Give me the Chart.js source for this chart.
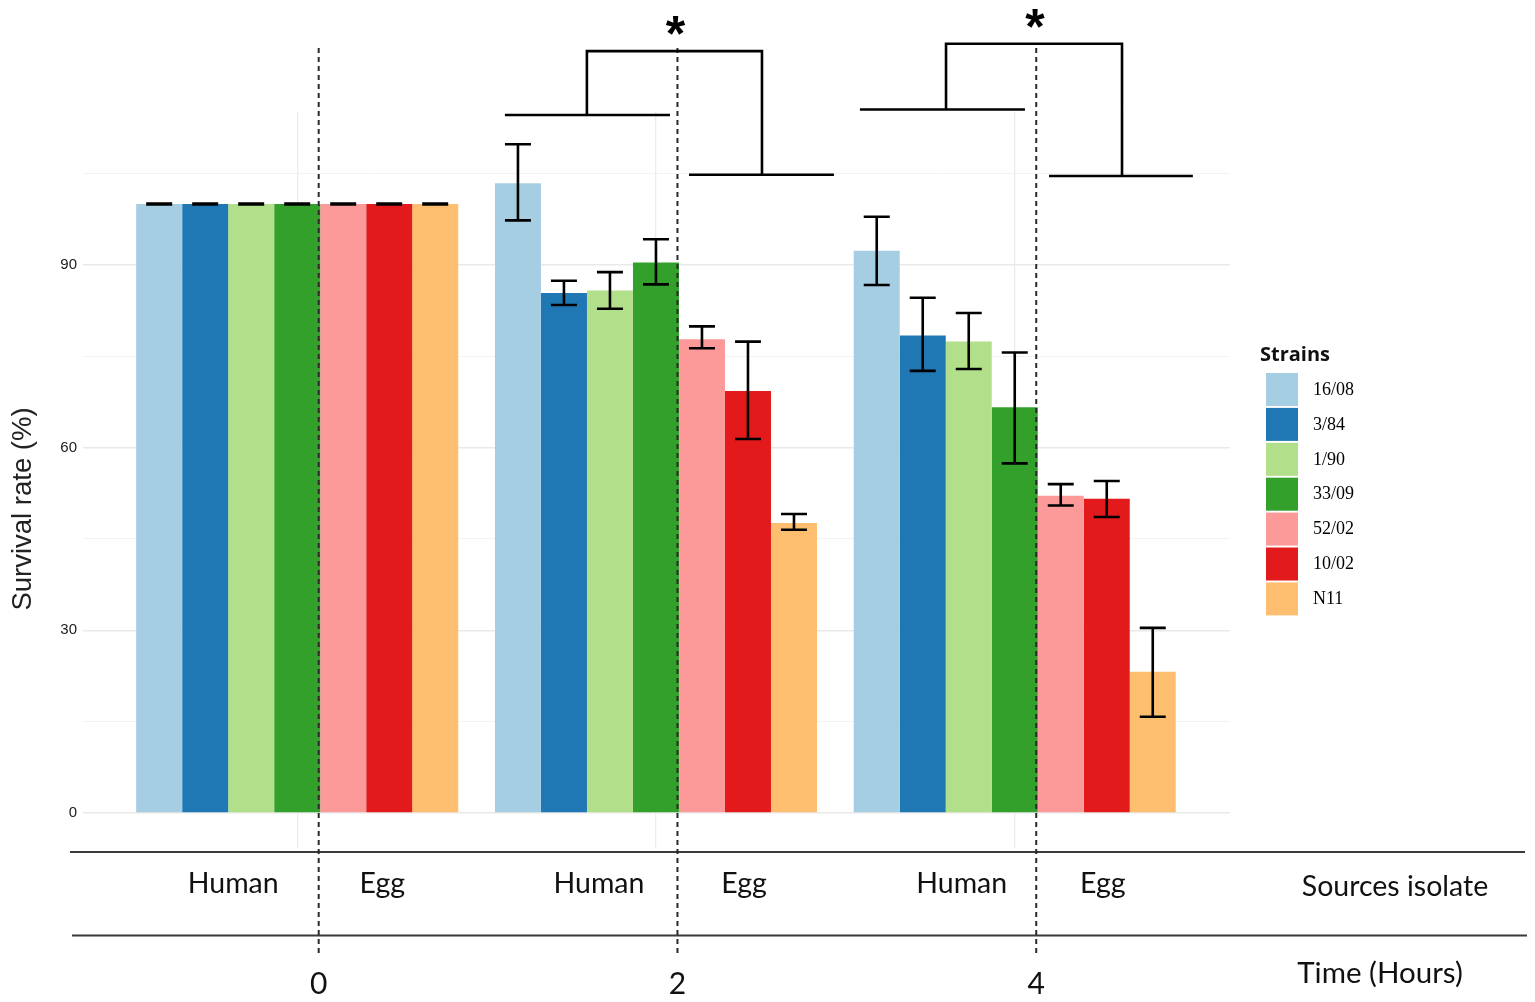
<!DOCTYPE html>
<html><head><meta charset="utf-8">
<script src="https://cdn.jsdelivr.net/npm/chart.js@4.4.1/dist/chart.umd.min.js"></script>
<style>html,body{margin:0;padding:0;background:#fff;overflow:hidden}</style>
</head><body>
<canvas id="c" width="1535" height="1002"></canvas>
<script>
// ---- data ----
const times = [0, 2, 4];
const strains = ['16/08', '3/84', '1/90', '33/09', '52/02', '10/02', 'N11'];
const sourceOf = ['Human', 'Human', 'Human', 'Human', 'Egg', 'Egg', 'Egg'];
const sourceLabels = ['Human', 'Egg'];
const yTickValues = [0, 30, 60, 90];

const mean1608 = [100, 103.4, 92.3];
const mean384  = [100, 85.4, 78.4];
const mean190  = [100, 85.8, 77.4];
const mean3309 = [100, 90.4, 66.6];
const mean5202 = [100, 77.8, 52.1];
const mean1002 = [100, 69.3, 51.6];
const meanN11  = [100, 47.6, 23.2];

const low1608 = [100, 97.3, 86.7];
const low384  = [100, 83.4, 72.6];
const low190  = [100, 82.8, 72.9];
const low3309 = [100, 86.8, 57.4];
const low5202 = [100, 76.3, 50.5];
const low1002 = [100, 61.4, 48.6];
const lowN11  = [100, 46.5, 15.8];

const high1608 = [100, 109.8, 97.9];
const high384  = [100, 87.4, 84.6];
const high190  = [100, 88.8, 82.1];
const high3309 = [100, 94.2, 75.6];
const high5202 = [100, 79.9, 54.0];
const high1002 = [100, 77.4, 54.5];
const highN11  = [100, 49.1, 30.4];

const significantTimes = [2, 4];
const significanceLabel = '*';

// ---- styling / geometry ----
const colors = ['#A6CEE3', '#1F78B4', '#B2DF8A', '#33A02C', '#FB9A99', '#E31A1C', '#FDBF6F'];
const means = [mean1608, mean384, mean190, mean3309, mean5202, mean1002, meanN11];
const lows = [low1608, low384, low190, low3309, low5202, low1002, lowN11];
const highs = [high1608, high384, high190, high3309, high5202, high1002, highN11];

// bracket geometry, in axis units relative to each time value
const bracketGeom = [
  {hL: -0.842, hR: 0.078, eL: 0.184, eR: 0.992, cL: -0.385, cR: 0.591, hY: 114.6, eY: 104.8, topY: 125.1},
  {hL: -0.863, hR: 0.057, eL: 0.191, eR: 0.993, cL: -0.383, cR: 0.598, hY: 115.5, eY: 104.6, topY: 126.3}
];
const humanLabelOffset = [-87, -80, -76];
const eggLabelOffset = [62, 65, 65];

const overlay = {
  id: 'overlay',
  afterDatasetsDraw(chart) {
    const ctx = chart.ctx, y = chart.scales.y;
    ctx.save();
    ctx.strokeStyle = '#000';
    chart.data.datasets.forEach((ds, k) => {
      const meta = chart.getDatasetMeta(k);
      meta.data.forEach((el, i) => {
        const x = el.x, cap = 13;
        const y1 = y.getPixelForValue(lows[k][i]);
        const y2 = y.getPixelForValue(highs[k][i]);
        ctx.lineWidth = (y1 === y2) ? 3.4 : 2.6;
        ctx.beginPath();
        ctx.moveTo(x, y1); ctx.lineTo(x, y2);
        ctx.moveTo(x - cap, y1); ctx.lineTo(x + cap, y1);
        ctx.moveTo(x - cap, y2); ctx.lineTo(x + cap, y2);
        ctx.stroke();
      });
    });
    ctx.restore();
  },
  afterDraw(chart) {
    const ctx = chart.ctx, xs = chart.scales.x, ys = chart.scales.y;
    ctx.save();
    const firstEgg = sourceOf.indexOf('Egg');
    const metaEgg = chart.getDatasetMeta(firstEgg);
    const bounds = metaEgg.data.map(el => el.x - el.width / 2);

    // table lines
    ctx.strokeStyle = '#3a3a3a';
    ctx.lineWidth = 2;
    ctx.beginPath();
    ctx.moveTo(70, 852); ctx.lineTo(1525, 852);
    ctx.moveTo(72, 935.5); ctx.lineTo(1527, 935.5);
    ctx.stroke();

    // dashed lines
    ctx.strokeStyle = '#2a2a2a';
    ctx.lineWidth = 2;
    ctx.setLineDash([5, 4]);
    bounds.forEach(b => {
      ctx.beginPath();
      ctx.moveTo(b - 1.5, 48); ctx.lineTo(b - 1.5, 953);
      ctx.stroke();
    });
    ctx.setLineDash([]);

    // brackets
    ctx.strokeStyle = '#000';
    ctx.lineWidth = 2.6;
    significantTimes.forEach((t, j) => {
      const g = bracketGeom[j];
      const px = v => xs.getPixelForValue(t + v);
      const py = v => ys.getPixelForValue(v);
      ctx.beginPath();
      ctx.moveTo(px(g.hL), py(g.hY)); ctx.lineTo(px(g.hR), py(g.hY));
      ctx.moveTo(px(g.eL), py(g.eY)); ctx.lineTo(px(g.eR), py(g.eY));
      ctx.moveTo(px(g.cL), py(g.hY)); ctx.lineTo(px(g.cL), py(g.topY));
      ctx.lineTo(px(g.cR), py(g.topY)); ctx.lineTo(px(g.cR), py(g.eY));
      ctx.stroke();
      ctx.fillStyle = '#000';
      ctx.font = 'bold 50px "Liberation Sans"';
      ctx.textAlign = 'center';
      ctx.textBaseline = 'alphabetic';
      ctx.fillText(significanceLabel, (px(g.cL) + px(g.cR)) / 2 + 1, py(g.topY));
    });

    // bottom labels
    ctx.fillStyle = '#111';
    ctx.textAlign = 'center';
    ctx.textBaseline = 'middle';
    ctx.font = '28.5px Lato';
    bounds.forEach((b, i) => {
      ctx.fillText(sourceLabels[0], b + humanLabelOffset[i], 884);
      ctx.fillText(sourceLabels[1], b + eggLabelOffset[i], 884);
    });
    ctx.font = '30px Lato';
    bounds.forEach((b, i) => ctx.fillText(String(times[i]), b - 1.5, 984));
    ctx.font = '28.5px Lato';
    ctx.fillText('Sources isolate', 1395, 887);
    ctx.font = '29.5px Lato';
    ctx.fillText('Time (Hours)', 1380, 973);

    // y title
    ctx.save();
    ctx.translate(23, 509);
    ctx.rotate(-Math.PI / 2);
    ctx.font = '27.5px "Liberation Sans"';
    ctx.fillStyle = '#222';
    ctx.fillText('Survival rate (%)', 0, 0);
    ctx.restore();

    // legend
    ctx.textAlign = 'left';
    ctx.textBaseline = 'alphabetic';
    ctx.fillStyle = '#111';
    ctx.font = 'bold 20px "Open Sans"';
    ctx.fillText('Strains', 1260, 361);
    chart.data.datasets.forEach((ds, k) => {
      const top = 373 + 34.9 * k;
      ctx.fillStyle = ds.backgroundColor;
      ctx.fillRect(1266, top, 32, 33);
      ctx.fillStyle = '#000';
      ctx.font = '18px "Liberation Serif"';
      ctx.textBaseline = 'middle';
      ctx.fillText(ds.label, 1313, top + 17);
      ctx.textBaseline = 'alphabetic';
    });
    ctx.restore();
  }
};

new Chart(document.getElementById('c'), {
  type: 'bar',
  data: {
    datasets: strains.map((s, k) => ({
      label: s,
      data: times.map((t, i) => ({x: t, y: means[k][i]})),
      backgroundColor: colors[k],
      borderWidth: 0
    }))
  },
  options: {
    responsive: false,
    animation: false,
    devicePixelRatio: 1,
    layout: {padding: {left: 0, right: 305, top: 112, bottom: 154}},
    plugins: {legend: {display: false}, tooltip: {enabled: false}},
    datasets: {bar: {categoryPercentage: 0.8976, barPercentage: 1}},
    scales: {
      x: {
        type: 'linear', min: -1.194, max: 5.2, offset: false,
        afterBuildTicks: s => { s.ticks = times.map(v => ({value: v})); },
        afterFit: s => { s.height = 0; },
        ticks: {display: false},
        grid: {color: '#ececec', lineWidth: 1.3, drawTicks: false, offset: false},
        border: {display: false}
      },
      y: {
        min: -5.75, max: 115.1,
        afterBuildTicks: s => {
          const t = [];
          for (let v = 0; v <= 105; v += 15) t.push({value: v});
          s.ticks = t;
        },
        afterFit: s => { s.width = 83; },
        ticks: {
          padding: 6,
          color: '#1a1a1a',
          font: {family: '"Liberation Sans"', size: 15},
          callback: v => yTickValues.includes(v) ? String(v) : ''
        },
        grid: {
          drawTicks: false,
          color: c => yTickValues.includes(c.tick.value) ? '#e9e9e9' : '#f3f3f3',
          lineWidth: c => yTickValues.includes(c.tick.value) ? 1.4 : 1
        },
        border: {display: false}
      }
    }
  },
  plugins: [overlay]
});
</script>
</body></html>
